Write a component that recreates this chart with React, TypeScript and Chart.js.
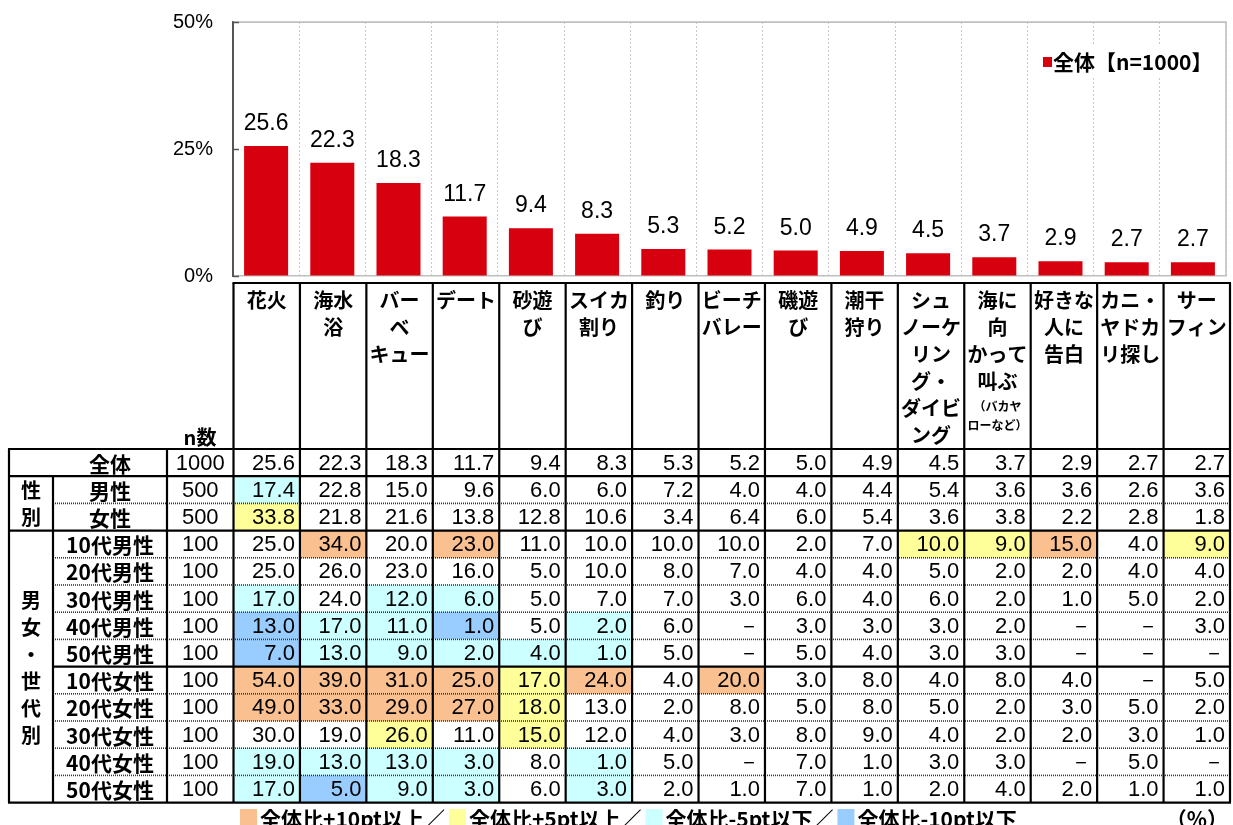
import React, { useEffect, useRef } from 'react';
import { Chart, registerables } from 'chart.js';

Chart.register(...registerables);

// ---------- data ----------
const categories = [
  '花火', '海水浴', 'バーベキュー', 'デート', '砂遊び', 'スイカ割り', '釣り', 'ビーチバレー',
  '磯遊び', '潮干狩り', 'シュノーケリング・ダイビング', '海に向かって叫ぶ（バカヤローなど）',
  '好きな人に告白', 'カニ・ヤドカリ探し', 'サーフィン',
];
const headerLines = [
  ['花火'], ['海水', '浴'], ['バー', 'ベ', 'キュー'], ['デート'], ['砂遊', 'び'], ['スイカ', '割り'],
  ['釣り'], ['ビーチ', 'バレー'], ['磯遊', 'び'], ['潮干', '狩り'],
  ['シュ', 'ノーケ', 'リン', 'グ・', 'ダイビ', 'ング'], ['海に', '向', 'かって', '叫ぶ'],
  ['好きな', '人に', '告白'], ['カニ・', 'ヤドカ', 'リ探し'], ['サー', 'フィン'],
];
const headerNotes = [[], [], [], [], [], [], [], [], [], [], [], ['（バカヤ', 'ローなど）'], [], [], []];

const overall = [25.6, 22.3, 18.3, 11.7, 9.4, 8.3, 5.3, 5.2, 5.0, 4.9, 4.5, 3.7, 2.9, 2.7, 2.7];
const male = [17.4, 22.8, 15.0, 9.6, 6.0, 6.0, 7.2, 4.0, 4.0, 4.4, 5.4, 3.6, 3.6, 2.6, 3.6];
const female = [33.8, 21.8, 21.6, 13.8, 12.8, 10.6, 3.4, 6.4, 6.0, 5.4, 3.6, 3.8, 2.2, 2.8, 1.8];
const m10 = [25.0, 34.0, 20.0, 23.0, 11.0, 10.0, 10.0, 10.0, 2.0, 7.0, 10.0, 9.0, 15.0, 4.0, 9.0];
const m20 = [25.0, 26.0, 23.0, 16.0, 5.0, 10.0, 8.0, 7.0, 4.0, 4.0, 5.0, 2.0, 2.0, 4.0, 4.0];
const m30 = [17.0, 24.0, 12.0, 6.0, 5.0, 7.0, 7.0, 3.0, 6.0, 4.0, 6.0, 2.0, 1.0, 5.0, 2.0];
const m40 = [13.0, 17.0, 11.0, 1.0, 5.0, 2.0, 6.0, null, 3.0, 3.0, 3.0, 2.0, null, null, 3.0];
const m50 = [7.0, 13.0, 9.0, 2.0, 4.0, 1.0, 5.0, null, 5.0, 4.0, 3.0, 3.0, null, null, null];
const f10 = [54.0, 39.0, 31.0, 25.0, 17.0, 24.0, 4.0, 20.0, 3.0, 8.0, 4.0, 8.0, 4.0, null, 5.0];
const f20 = [49.0, 33.0, 29.0, 27.0, 18.0, 13.0, 2.0, 8.0, 5.0, 8.0, 5.0, 2.0, 3.0, 5.0, 2.0];
const f30 = [30.0, 19.0, 26.0, 11.0, 15.0, 12.0, 4.0, 3.0, 8.0, 9.0, 4.0, 2.0, 2.0, 3.0, 1.0];
const f40 = [19.0, 13.0, 13.0, 3.0, 8.0, 1.0, 5.0, null, 7.0, 1.0, 3.0, 3.0, null, 5.0, null];
const f50 = [17.0, 5.0, 9.0, 3.0, 6.0, 3.0, 2.0, 1.0, 7.0, 1.0, 2.0, 4.0, 2.0, 1.0, 1.0];

const rowLabels = ['全体', '男性', '女性', '10代男性', '20代男性', '30代男性', '40代男性', '50代男性',
  '10代女性', '20代女性', '30代女性', '40代女性', '50代女性'];
const rowN = [1000, 500, 500, 100, 100, 100, 100, 100, 100, 100, 100, 100, 100];
const rowValues: (number | null)[][] = [overall, male, female, m10, m20, m30, m40, m50, f10, f20, f30, f40, f50];
const groupLabels = [
  { lines: ['性', '別'], from: 1, to: 2 },
  { lines: ['男', '女', '・', '世', '代', '別'], from: 3, to: 12 },
];
const highlightLabels = ['全体比+10pt以上／', '全体比+5pt以上／', '全体比-5pt以下／', '全体比-10pt以下'];
const highlightColors = ['#FAC090', '#FFFF99', '#CCFFFF', '#99CCFF'];
const seriesLabel = '全体【n=1000】';
const yTicks = [0, 25, 50];

const JP = '"Noto Sans CJK JP", "Noto Sans", sans-serif';
const NUM = '"Liberation Sans", Arial, sans-serif';
const RED = '#D7000F';
const AREA = { left: 233, top: 22, right: 1226, bottom: 276 };

function cellColor(v: number | null, base: number): string | null {
  if (v === null) return null;
  const d = v - base;
  if (d >= 10) return highlightColors[0];
  if (d >= 5) return highlightColors[1];
  if (d <= -10) return highlightColors[3];
  if (d <= -5) return highlightColors[2];
  return null;
}

const overlayPlugin = {
  id: 'overlay',
  afterDatasetsDraw(chart: any) {
    const { ctx, chartArea: a } = chart;
    const meta = chart.getDatasetMeta(0);
    ctx.save();
    // bar value labels
    ctx.fillStyle = '#000';
    ctx.font = `23px ${NUM}`;
    ctx.textAlign = 'center';
    ctx.textBaseline = 'alphabetic';
    meta.data.forEach((bar: any, i: number) => {
      ctx.fillText(overall[i].toFixed(1), bar.x, bar.y - 16);
    });
    // plot border (top/right)
    ctx.strokeStyle = '#c0c0c0';
    ctx.lineWidth = 1.5;
    ctx.beginPath();
    ctx.moveTo(a.left, a.top);
    ctx.lineTo(a.right, a.top);
    ctx.lineTo(a.right, a.bottom);
    ctx.stroke();
    // inside tick marks
    const y = chart.scales.y;
    ctx.strokeStyle = '#555';
    ctx.lineWidth = 1.5;
    yTicks.forEach((v) => {
      const py = Math.round(y.getPixelForValue(v)) + 0.5;
      ctx.beginPath();
      ctx.moveTo(a.left, py);
      ctx.lineTo(a.left + 6, py);
      ctx.stroke();
    });
    // series legend (top right)
    ctx.fillStyle = '#fff';
    ctx.fillRect(1036, 46, 184, 32);
    ctx.fillStyle = RED;
    ctx.fillRect(1043, 57, 9, 10);
    ctx.fillStyle = '#000';
    ctx.font = `bold 21px ${JP}`;
    ctx.textAlign = 'left';
    ctx.textBaseline = 'middle';
    ctx.fillText(seriesLabel, 1053, 62);
    ctx.restore();
  },
  afterDraw(chart: any) {
    const { ctx, chartArea: a } = chart;
    const xs = chart.scales.x;
    const n = categories.length;
    const tL = 233.5;
    const tR = 1230;
    const k = (tR - tL) / (a.right - a.left);
    const T = (px: number) => tL + (px - a.left) * k;
    const half = (xs.getPixelForValue(1) - xs.getPixelForValue(0)) / 2;
    const colL = (i: number) => T(xs.getPixelForValue(i) - half);
    const colR = (i: number) => T(xs.getPixelForValue(i) + half);
    const colC = (i: number) => (colL(i) + colR(i)) / 2;

    const headerTop = 283;
    const tableTop = 449;
    const rowH = 27.2;
    const x0 = 9, x1 = 53, x2 = 167, x3 = tL;
    const rowTop = (r: number) => tableTop + r * rowH;
    const nRows = rowLabels.length;
    const tableBottom = rowTop(nRows);

    ctx.save();
    // cell backgrounds
    for (let r = 1; r < nRows; r++) {
      for (let c = 0; c < n; c++) {
        const col = cellColor(rowValues[r][c], overall[c]);
        if (col) {
          ctx.fillStyle = col;
          ctx.fillRect(colL(c), rowTop(r), colR(c) - colL(c), rowH);
        }
      }
    }

    // dotted separators
    ctx.strokeStyle = '#333';
    ctx.lineWidth = 1.6;
    ctx.setLineDash([1, 1]);
    const dotted = [2, 4, 5, 6, 7, 9, 10, 11, 12];
    dotted.forEach((r) => {
      const py = rowTop(r);
      ctx.beginPath();
      ctx.moveTo(x1, py);
      ctx.lineTo(tR, py);
      ctx.stroke();
    });
    ctx.setLineDash([]);

    // solid lines
    ctx.strokeStyle = '#000';
    ctx.lineWidth = 2.2;
    const hline = (xa: number, xb: number, py: number) => {
      ctx.beginPath(); ctx.moveTo(xa, py); ctx.lineTo(xb, py); ctx.stroke();
    };
    const vline = (px: number, ya: number, yb: number) => {
      ctx.beginPath(); ctx.moveTo(px, ya); ctx.lineTo(px, yb); ctx.stroke();
    };
    hline(x3 - 1, tR + 1, headerTop);
    hline(x0 - 1, tR + 1, rowTop(0));
    hline(x0 - 1, tR + 1, rowTop(1));
    hline(x0 - 1, tR + 1, rowTop(3));
    hline(x1, tR + 1, rowTop(8));
    hline(x0 - 1, tR + 1, tableBottom);
    vline(x0, rowTop(0), tableBottom);
    vline(x1, rowTop(1), tableBottom);
    vline(x2, rowTop(0), tableBottom);
    vline(x3, headerTop, tableBottom);
    for (let c = 0; c < n; c++) vline(colR(c), headerTop, tableBottom);

    // header texts
    ctx.fillStyle = '#000';
    ctx.textAlign = 'center';
    ctx.textBaseline = 'middle';
    for (let c = 0; c < n; c++) {
      ctx.font = `bold 20px ${JP}`;
      headerLines[c].forEach((line, li) => {
        ctx.fillText(line, colC(c), 300 + li * 27);
      });
      ctx.font = `bold 12px ${JP}`;
      headerNotes[c].forEach((line, li) => {
        ctx.fillText(line, colC(c), 406 + li * 19);
      });
    }
    ctx.font = `bold 20px ${JP}`;
    ctx.fillText('n数', 200, 437);

    // group labels
    groupLabels.forEach((g) => {
      const cy = (rowTop(g.from) + rowTop(g.to + 1)) / 2;
      const start = cy - ((g.lines.length - 1) * 27) / 2;
      g.lines.forEach((l, li) => ctx.fillText(l, (x0 + x1) / 2, start + li * 27 + 1));
    });

    // row labels + n + values
    for (let r = 0; r < nRows; r++) {
      const cy = rowTop(r) + rowH / 2 + 1;
      ctx.textAlign = 'center';
      ctx.font = `bold 21px ${JP}`;
      ctx.fillText(rowLabels[r], (x1 + x2) / 2, cy);
      ctx.font = `22px ${NUM}`;
      ctx.fillText(String(rowN[r]), (x2 + x3) / 2, cy);
      ctx.textAlign = 'right';
      for (let c = 0; c < n; c++) {
        const v = rowValues[r][c];
        ctx.fillText(v === null ? '－' : v.toFixed(1), colR(c) - 5, cy);
      }
    }

    // highlight legend (bottom)
    let lx = 240;
    const ly = 819;
    ctx.font = `bold 21px ${JP}`;
    ctx.textAlign = 'left';
    highlightLabels.forEach((lab, i) => {
      ctx.fillStyle = highlightColors[i];
      ctx.fillRect(lx, ly - 10, 17, 20);
      ctx.fillStyle = '#000';
      ctx.fillText(lab, lx + 20, ly);
      lx += 20 + ctx.measureText(lab).width + 4;
    });
    ctx.textAlign = 'right';
    ctx.fillText('（%）', 1228, ly);
    ctx.restore();
  },
};

export default function App() {
  const ref = useRef<HTMLCanvasElement>(null);
  useEffect(() => {
    if (!ref.current) return;
    let alive = true;
    const chart: any = new Chart(ref.current, {
      type: 'bar',
      data: {
        labels: categories,
        datasets: [{
          label: seriesLabel,
          data: overall,
          backgroundColor: RED,
          borderWidth: 0,
          barPercentage: 0.665,
          categoryPercentage: 1,
        }],
      },
      options: {
        animation: false,
        responsive: false,
        layout: { padding: { left: 173, right: 7, top: 22, bottom: 549 } },
        plugins: { legend: { display: false }, tooltip: { enabled: false } },
        scales: {
          x: {
            grid: { offset: true, color: '#c8c8c8', lineWidth: 1, drawTicks: false },
            border: { color: '#bfbfbf', width: 1.5, dash: [2, 2] },
            ticks: { display: false },
            afterFit: (s: any) => { s.height = 0; s.paddingLeft = 0; s.paddingRight = 0; },
          },
          y: {
            min: 0,
            max: 50,
            afterBuildTicks: (s: any) => { s.ticks = yTicks.map((v) => ({ value: v })); },
            ticks: {
              callback: (v: any) => `${v}%`,
              color: '#000',
              font: { family: NUM, size: 20 },
              padding: 20,
            },
            grid: {
              drawTicks: false,
              color: (c: any) => (c.tick && c.tick.value === 50 ? '#c0c0c0' : 'rgba(0,0,0,0)'),
            },
            border: { color: '#555', width: 2 },
            afterFit: (s: any) => { s.width = 60; s.paddingTop = 0; s.paddingBottom = 0; },
          },
        },
      },
      plugins: [overlayPlugin],
    } as any);
    // make sure the plot area sits where the reference has it
    for (let i = 0; i < 3; i++) {
      const ca = chart.chartArea;
      const p = chart.options.layout.padding;
      const dt = ca.top - AREA.top, dl = ca.left - AREA.left;
      const dr = AREA.right - ca.right, db = AREA.bottom - ca.bottom;
      if (Math.abs(dt) < 0.5 && Math.abs(dl) < 0.5 && Math.abs(dr) < 0.5 && Math.abs(db) < 0.5) break;
      chart.options.layout.padding = {
        top: p.top - dt, left: p.left - dl, right: p.right - dr, bottom: p.bottom + db,
      };
      chart.update();
    }
    const fonts = (document as any).fonts;
    if (fonts && fonts.load) {
      Promise.all([
        fonts.load(`bold 20px "Noto Sans CJK JP"`),
        fonts.load(`20px "Liberation Sans"`),
      ]).then(() => { if (alive) chart.draw(); }).catch(() => {});
    }
    return () => { alive = false; chart.destroy(); };
  }, []);
  return (
    <div style={{ position: 'absolute', left: 0, top: 0, width: 1233, height: 825, background: '#fff' }}>
      <canvas ref={ref} width={1233} height={825} style={{ display: 'block', width: 1233, height: 825 }} />
    </div>
  );
}
